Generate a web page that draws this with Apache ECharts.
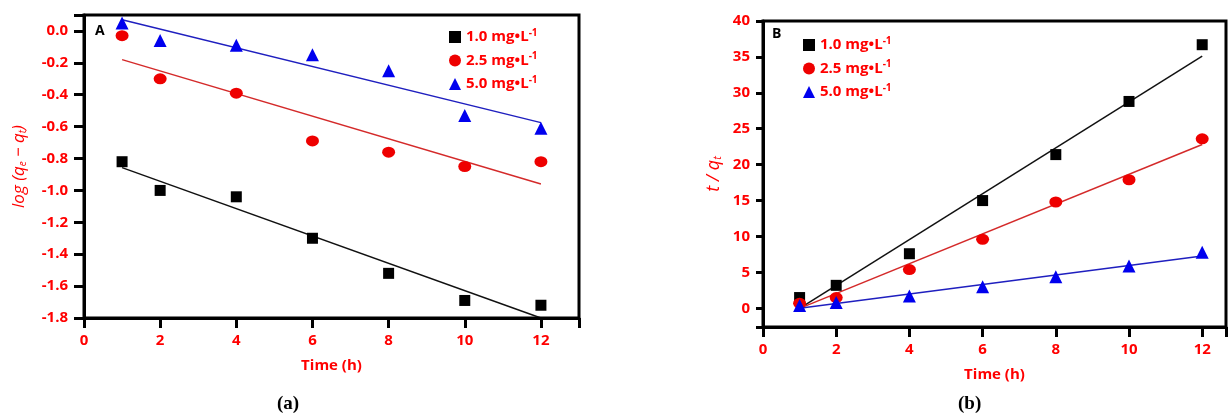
<!DOCTYPE html>
<html><head><meta charset="utf-8">
<script src="https://cdn.jsdelivr.net/npm/echarts@6/dist/echarts.min.js"></script>
<style>html,body{margin:0;padding:0;background:#fff}#c{width:1228px;height:419px}</style>
</head><body><div id="c"></div>
<script>
// ---- data ----
const timeH = [1, 2, 4, 6, 8, 10, 12];
const concNames = ['1.0', '2.5', '5.0'];
// panel (a): log(qe - qt)
const logA_10 = [-0.82, -1.00, -1.04, -1.30, -1.52, -1.69, -1.72];
const logA_25 = [-0.03, -0.30, -0.39, -0.69, -0.76, -0.85, -0.82];
const logA_50 = [0.05, -0.06, -0.09, -0.15, -0.25, -0.53, -0.61];
const fitX = [1, 12];
const fitA_10 = [-0.857, -1.80];
const fitA_25 = [-0.18, -0.96];
const fitA_50 = [0.07, -0.575];
// panel (b): t/qt
const tqB_10 = [1.5, 3.2, 7.6, 15.0, 21.4, 28.8, 36.7];
const tqB_25 = [0.7, 1.5, 5.4, 9.6, 14.8, 17.9, 23.6];
const tqB_50 = [0.4, 0.8, 1.7, 3.0, 4.4, 5.9, 7.8];
const fitB_10 = [0, 35.1];
const fitB_25 = [0, 22.8];
const fitB_50 = [0, 7.3];
// tick labels
const xTicks = [0, 2, 4, 6, 8, 10, 12];
const yTicksA = [-1.8, -1.6, -1.4, -1.2, -1.0, -0.8, -0.6, -0.4, -0.2, 0.0];
const yTicksB = [0, 5, 10, 15, 20, 25, 30, 35, 40];

const RED = '#ff0000';
const FONT = 'Open Sans';
const pts = (xs, ys) => xs.map((x, i) => [x, ys[i]]);
const symbols = ['rect', 'circle', 'triangle'];
const sizes = [11, [13, 11], 13];
const mColors = ['#000000', '#ee0000', '#0000ee'];
const lColors = ['#111111', '#d42a2a', '#1f1fbf'];
const labelStyle = { color: RED, fontWeight: 'bold', fontSize: 15, fontFamily: FONT };

const legendRich = {
  n: { color: RED, fontWeight: 'bold', fontSize: 15, fontFamily: FONT },
  s: { color: RED, fontWeight: 'bold', fontSize: 10, fontFamily: FONT, padding: [0, 0, 8, 0] }
};

const series = [];
const dataA = [logA_10, logA_25, logA_50];
const fitA = [fitA_10, fitA_25, fitA_50];
const dataB = [tqB_10, tqB_25, tqB_50];
const fitB = [fitB_10, fitB_25, fitB_50];
for (let g = 0; g < 2; g++) {
  const D = g === 0 ? dataA : dataB;
  const F = g === 0 ? fitA : fitB;
  for (let i = 0; i < 3; i++) {
    series.push({
      type: 'line', name: 'fit' + g + i, xAxisIndex: g, yAxisIndex: g,
      data: pts(fitX, F[i]), symbol: 'none', silent: true,
      lineStyle: { color: lColors[i], width: 1.5 }, z: 2
    });
  }
  for (let i = 0; i < 3; i++) {
    series.push({
      type: 'scatter', name: concNames[i], xAxisIndex: g, yAxisIndex: g,
      data: pts(timeH, D[i]), symbol: symbols[i], symbolSize: sizes[i],
      itemStyle: { color: mColors[i], opacity: 1 }, z: 3
    });
  }
}

function mkAxis(o) {
  const ax = {
    type: 'value', gridIndex: o.grid, min: o.min, max: o.max,
    name: o.name, nameLocation: 'middle', nameGap: o.nameGap, nameRotate: o.nameRotate,
    nameTextStyle: o.nameStyle,
    axisLine: { show: true, onZero: false, lineStyle: { color: '#000', width: 3 } },
    axisTick: { show: true, inside: false, length: o.tickLen, lineStyle: { color: '#000', width: 3 } },
    splitLine: { show: false },
    axisLabel: Object.assign({ show: true, margin: o.margin, customValues: o.ticks, formatter: o.fmt }, labelStyle),
    z: 10
  };
  if (o.interval) ax.interval = o.interval;
  if (o.splitNumber) ax.splitNumber = o.splitNumber;
  return ax;
}

const chart = echarts.init(document.getElementById('c'), null, { renderer: 'canvas' });
chart.setOption({
  animation: false,
  backgroundColor: '#fff',
  grid: [
    { left: 84, top: 15, width: 495, height: 303, show: true, borderColor: '#000', borderWidth: 3 },
    { left: 763, top: 21, width: 463, height: 306, show: true, borderColor: '#000', borderWidth: 3 }
  ],
  xAxis: [
    mkAxis({ grid: 0, min: 0, max: 13, interval: 2, ticks: xTicks, tickLen: 10, margin: 15,
      name: 'Time (h)', nameGap: 40, nameStyle: labelStyle }),
    mkAxis({ grid: 1, min: 0, max: 12.65, interval: 2, ticks: xTicks, tickLen: 10, margin: 15,
      name: 'Time (h)', nameGap: 40, nameStyle: labelStyle })
  ],
  yAxis: [
    mkAxis({ grid: 0, min: -1.8, max: 0.1, interval: 0.2, ticks: yTicksA, tickLen: 10, margin: 16,
      fmt: v => Number(v).toFixed(1),
      name: '{i|log (q}{b|e}{i| − q}{b|t}{i|)}', nameGap: 56, nameRotate: 90,
      nameStyle: { rich: {
        i: { color: RED, fontStyle: 'italic', fontSize: 17, fontFamily: FONT },
        b: { color: RED, fontStyle: 'italic', fontSize: 10, fontFamily: FONT, padding: [8, 0, 0, 0] } } } }),
    mkAxis({ grid: 1, min: -2.6, max: 40, splitNumber: 8, ticks: yTicksB, tickLen: 7, margin: 13,
      name: '{i|t / q}{b|t}', nameGap: 40, nameRotate: 90,
      nameStyle: { rich: {
        i: { color: RED, fontStyle: 'italic', fontSize: 18, fontFamily: FONT },
        b: { color: RED, fontStyle: 'italic', fontSize: 11, fontFamily: FONT, padding: [8, 0, 0, 0] } } } })
  ],
  legend: [
    { left: 444, top: 23, orient: 'vertical', itemWidth: 12, itemHeight: 12, itemGap: 7,
      data: concNames, formatter: n => '{n|' + n + ' mg•L}{s|-1}', textStyle: { rich: legendRich },
      selectedMode: false },
    { left: 798, top: 31, orient: 'vertical', itemWidth: 12, itemHeight: 12, itemGap: 7,
      data: concNames, formatter: n => '{n|' + n + ' mg•L}{s|-1}', textStyle: { rich: legendRich },
      selectedMode: false }
  ],
  graphic: [
    { type: 'text', left: 95, top: 24, style: { text: 'A', fill: '#000', font: 'bold 14px "Open Sans"' } },
    { type: 'text', left: 772, top: 27, style: { text: 'B', fill: '#000', font: 'bold 14px "Open Sans"' } },
    { type: 'text', left: 277, top: 395, style: { text: '(a)', fill: '#000', font: 'bold 19px "Liberation Serif"' } },
    { type: 'text', left: 958, top: 395, style: { text: '(b)', fill: '#000', font: 'bold 19px "Liberation Serif"' } }
  ],
  series: series
});
</script></body></html>
